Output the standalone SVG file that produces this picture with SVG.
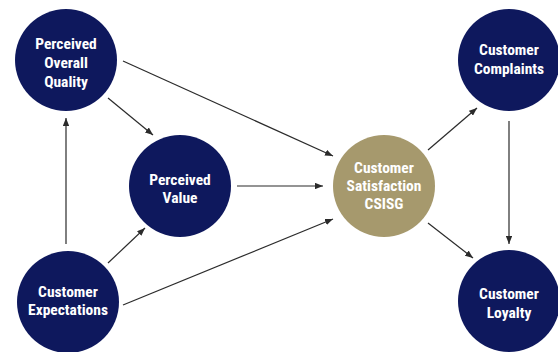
<svg xmlns="http://www.w3.org/2000/svg" width="558" height="352" viewBox="0 0 558 352">
<style>
.n{fill:#0e185d}
.g{fill:#a6996d}
.t{font-family:"Liberation Sans Narrow","Roboto Condensed","Liberation Sans",sans-serif;font-weight:bold;font-size:15.5px;fill:#fff;text-anchor:middle}
.c line{stroke:#2b2b2b;stroke-width:1.2;marker-end:url(#a)}
</style>
<defs>
<marker id="a" viewBox="0 0 10 8" refX="10" refY="4" markerWidth="8" markerHeight="6.4" markerUnits="userSpaceOnUse" orient="auto">
<path d="M0,0L10,4L0,8z" fill="#2b2b2b"/>
</marker>
</defs>
<rect width="558" height="352" fill="#fff"/>
<g class="c" id="connectors">
<line x1="66" y1="244" x2="66" y2="118"/>
<line x1="108" y1="98" x2="153" y2="135"/>
<line x1="123" y1="61" x2="333" y2="156"/>
<line x1="237" y1="186" x2="323" y2="186"/>
<line x1="108" y1="263" x2="145" y2="228"/>
<line x1="123" y1="305" x2="333" y2="219"/>
<line x1="428" y1="150" x2="477" y2="108"/>
<line x1="509" y1="121" x2="509" y2="244"/>
<line x1="428" y1="223" x2="473" y2="258"/>
</g>
<g id="quality">
<circle class="n" cx="66" cy="60" r="51"/>
<text class="t" x="66" y="49">Perceived</text>
<text class="t" x="66" y="68">Overall</text>
<text class="t" x="66" y="87">Quality</text>
</g>
<g id="value">
<circle class="n" cx="180" cy="186" r="51"/>
<text class="t" x="180" y="185">Perceived</text>
<text class="t" x="180" y="203">Value</text>
</g>
<g id="expectations">
<circle class="n" cx="68" cy="302" r="51"/>
<text class="t" x="68" y="297">Customer</text>
<text class="t" x="68" y="315">Expectations</text>
</g>
<g id="satisfaction">
<circle class="g" cx="384" cy="186" r="51"/>
<text class="t" x="384" y="173">Customer</text>
<text class="t" x="384" y="191">Satisfaction</text>
<text class="t" x="384" y="209">CSISG</text>
</g>
<g id="complaints">
<circle class="n" cx="509" cy="60" r="51"/>
<text class="t" x="509" y="55">Customer</text>
<text class="t" x="509" y="74">Complaints</text>
</g>
<g id="loyalty">
<circle class="n" cx="509" cy="301" r="51"/>
<text class="t" x="509" y="299">Customer</text>
<text class="t" x="509" y="318">Loyalty</text>
</g>
</svg>
